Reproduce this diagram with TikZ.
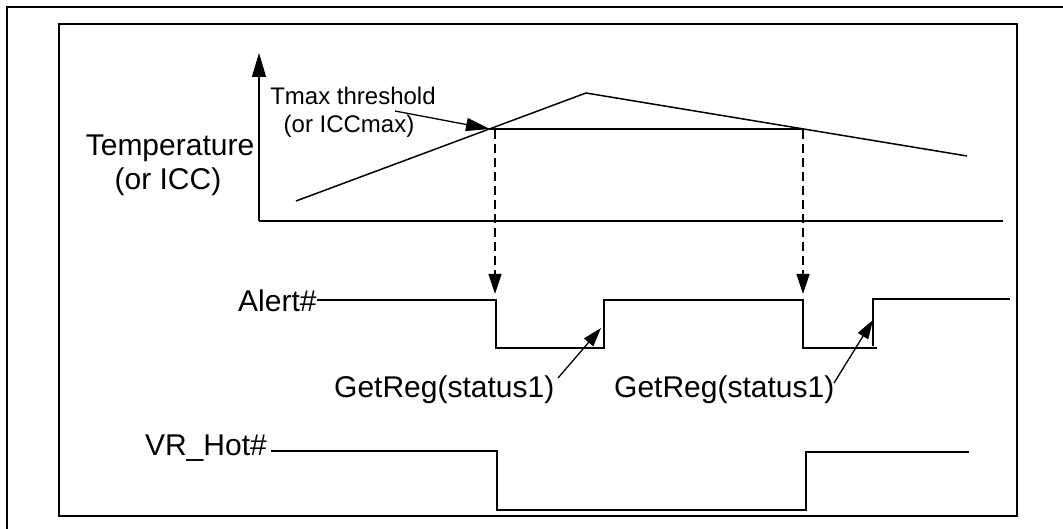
\documentclass[tikz,border=0pt]{standalone}
\usepackage{fontspec}
\setmainfont{Liberation Sans}
\usetikzlibrary{arrows.meta}
\begin{document}
\begin{tikzpicture}[x=1pt,y=-1pt,
  frame/.style={line width=2.2pt},
  sig/.style={line width=1.5pt, line join=miter},
  lbl/.style={inner sep=0pt, font=\fontsize{30}{34}\selectfont},
  smlbl/.style={inner sep=0pt, font=\fontsize{24}{28}\selectfont},
  dashv/.style={line width=1.2pt, dash pattern=on 9pt off 5pt, -{Triangle[length=20pt,width=13pt]}},
  ptr/.style={line width=1.3pt, -{Triangle[length=19pt,width=12pt]}}
]
\useasboundingbox (0,0) rectangle (1063,529);
\fill[white] (0,0) rectangle (1063,529);
% outer frame (cut by page)
\draw[frame] (7,529) -- (7,7) -- (1063,7);
% inner frame
\draw[frame] (59,24) rectangle (1017,516);

% axes
\coordinate (orig) at (259,221);
\coordinate (ytop) at (259,53);
\coordinate (xend) at (1003,221);
\draw[line width=1.5pt, -{Triangle[length=24pt,width=14pt]}] (orig) -- (ytop);
\draw[line width=1.5pt] (orig) -- (xend);

% temperature curve
\coordinate (c0) at (296,201);
\coordinate (cpk) at (586,93);
\coordinate (c1) at (967,156);
\draw[sig] (c0) -- (cpk) -- (c1);
% threshold
\coordinate (thA) at (490,129);
\coordinate (thB) at (804,129);
\draw[sig] (thA) -- (thB);

% labels
\node[lbl, anchor=base] (temp) at (170,156) {Temperature};
\node[lbl, anchor=base] (oricc) at (168,190) {(or ICC)};
\node[smlbl, anchor=base] (tmax) at (353,105) {Tmax threshold};
\node[smlbl, anchor=base] (oriccmax) at (349,133) {(or ICCmax)};
\coordinate (tmaxfrom) at (395,111);
\draw[ptr, -{Triangle[length=24pt,width=13pt]}] (tmaxfrom) -- (thA);

% dashed arrows
\coordinate (dA0) at (495,130);
\coordinate (dA1) at (495,294);
\coordinate (dB0) at (803,130);
\coordinate (dB1) at (803,294);
\draw[dashv] (dA0) -- (dA1);
\draw[dashv] (dB0) -- (dB1);

% Alert#
\node[lbl, anchor=base west] (alert) at (238,312) {Alert\#};
\draw[sig] (317,300) -- (496,300) -- (496,348) -- (604,348) -- (604,300)
  -- (803,300) -- (803,348) -- (877,348);
\draw[sig] (873,346) -- (873,299) -- (1010,299);

% GetReg labels
\node[lbl, anchor=base west] (gr1) at (334,397) {GetReg(status1)};
\node[lbl, anchor=base west] (gr2) at (614,397) {GetReg(status1)};
\coordinate (gr1a) at (558,378);
\coordinate (gr1b) at (601,328);
\coordinate (gr2a) at (834,383);
\coordinate (gr2b) at (873,320);
\draw[ptr] (gr1a) -- (gr1b);
\draw[ptr] (gr2a) -- (gr2b);

% VR_Hot#
\node[lbl, anchor=base east] (vrhot) at (267,455) {VR\_Hot\#};
\draw[sig] (271,451) -- (497,451) -- (497,510) -- (806,510) -- (806,452) -- (969,452);
\end{tikzpicture}
\end{document}
